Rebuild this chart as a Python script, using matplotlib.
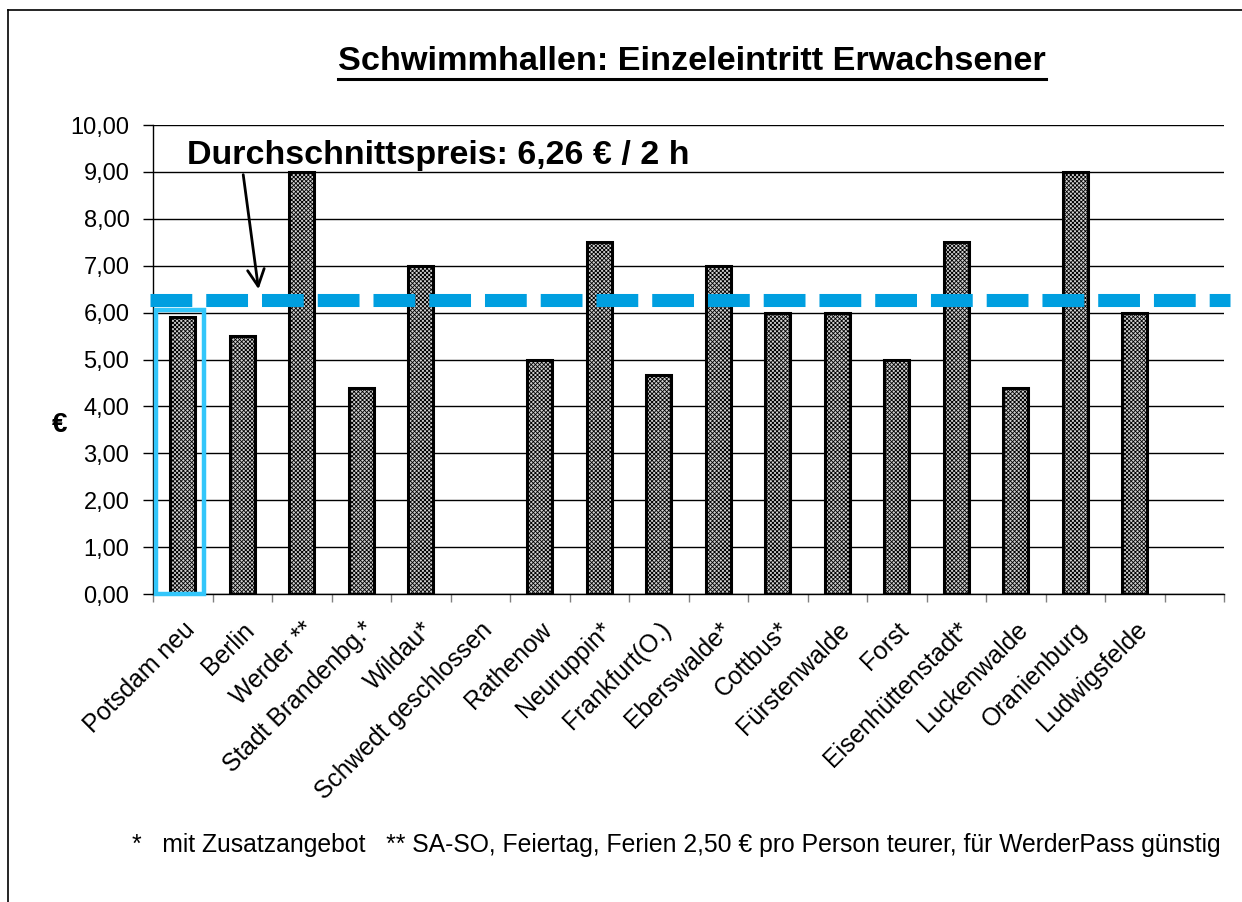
import matplotlib
matplotlib.use("Agg")
import matplotlib.pyplot as plt
import matplotlib.transforms as mtransforms
from matplotlib.patches import Rectangle
from matplotlib.lines import Line2D
from matplotlib.ticker import FuncFormatter, FixedLocator

plt.rcParams['font.family'] = ['Liberation Sans', 'DejaVu Sans']
plt.rcParams['hatch.linewidth'] = 0.6

# data (None = no bar)
baeder = ["Potsdam neu", "Berlin", "Werder **", "Stadt Brandenbg.*", "Wildau*",
          "Schwedt geschlossen", "Rathenow", "Neuruppin*", "Frankfurt(O.)",
          "Eberswalde*", "Cottbus*", "Fürstenwalde", "Forst", "Eisenhüttenstadt*",
          "Luckenwalde", "Oranienburg", "Ludwigsfelde", ""]
preise = [5.90, 5.50, 9.00, 4.40, 7.00, None, 5.00, 7.50, 4.67,
          7.00, 6.00, 6.00, 5.00, 7.50, 4.40, 9.00, 6.00, None]
durchschnitt = 6.26

titel = "Schwimmhallen: Einzeleintritt Erwachsener"
hinweis = "Durchschnittspreis: 6,26 € / 2 h"
# the reference image cuts the footnote after "günstig"
fussnote = "*   mit Zusatzangebot   ** SA-SO, Feiertag, Ferien 2,50 € pro Person teurer, für WerderPass günstig"

W, H = 1242, 902
fig = plt.figure(figsize=(W / 100, H / 100), dpi=100)
ax = fig.add_axes([153 / W, 1 - 594 / H, (1224 - 153) / W, (594 - 125) / H])

x = list(range(len(baeder)))
bx = [i for i, p in zip(x, preise) if p is not None]
by = [p for p in preise if p is not None]
ax.bar(bx, by, width=0.42, color="#d0d0d0", edgecolor="black",
       linewidth=2.2, hatch="xxxxxxxx", zorder=3)

ax.set_xlim(-0.5, len(baeder) - 0.5)
ax.set_ylim(0, 10)
ax.yaxis.set_major_locator(FixedLocator(range(0, 11)))
ax.yaxis.set_major_formatter(FuncFormatter(lambda v, p: f"{v:.2f}".replace(".", ",")))
ax.grid(axis="y", color="black", linewidth=1.0, zorder=0)
ax.set_axisbelow(True)

ax.set_xticks(x)
ax.set_xticklabels(baeder, rotation=45, ha="right", va="top",
                   rotation_mode="anchor", fontsize=17.8)
shift = mtransforms.ScaledTranslation(-0.05, 0, fig.dpi_scale_trans)
for lab in ax.get_xticklabels():
    lab.set_transform(lab.get_transform() + shift)
ax.set_xticks([i - 0.5 for i in range(len(baeder) + 1)], minor=True)
ax.tick_params(axis="x", which="major", length=0, pad=17)
ax.tick_params(axis="x", which="minor", length=6, width=1, color="#808080")
ax.tick_params(axis="y", length=7, width=1, labelsize=17, pad=10)

for s in ["top", "right"]:
    ax.spines[s].set_visible(False)
ax.spines["left"].set_linewidth(1.0)
ax.spines["bottom"].set_linewidth(1.0)

# Markierung Potsdam
ax.add_patch(Rectangle((-0.45, 0), 0.81, 6.05, fill=False,
                       edgecolor="#33C6FA", linewidth=3.2, zorder=4,
                       clip_on=False))

# Durchschnittslinie
ax.plot([-0.55, 17.6], [durchschnitt, durchschnitt], color="#009FE0",
        linewidth=9.4, dashes=(3.2, 1.07), solid_capstyle="butt",
        dash_capstyle="butt", zorder=5, clip_on=False)

ax.text(0.07, 9.36, hinweis, fontsize=24.5, fontweight="bold", va="center",
        ha="left", zorder=6)
ax.annotate("", xy=(1.28, 6.44), xytext=(1.01, 9.0),
            arrowprops=dict(arrowstyle="->", color="black", lw=2,
                            mutation_scale=30), zorder=6)

fig.text(60 / W, 1 - 425 / H, "€", fontsize=20, fontweight="bold",
         ha="center", va="center")
t = fig.text(692 / W, 1 - 62 / H, titel, fontsize=24.7, fontweight="bold",
             ha="center", va="center")
fig.text(132 / W, 1 - 845 / H, fussnote, fontsize=17.8, ha="left", va="center")

# Rahmen
fig.add_artist(Line2D([8 / W, 1.0], [1 - 10 / H, 1 - 10 / H], color="black",
                      linewidth=1.2, transform=fig.transFigure))
fig.add_artist(Line2D([8 / W, 8 / W], [1 - 10 / H, 0], color="black",
                      linewidth=1.2, transform=fig.transFigure))

# Unterstreichung des Titels
fig.canvas.draw()
bb = t.get_window_extent()
y_ul = (bb.y0 - 1) / H
fig.add_artist(Line2D([bb.x0 / W, bb.x1 / W], [y_ul, y_ul], color="black",
                      linewidth=2.2, transform=fig.transFigure))

fig.savefig("out.png", dpi=100)
